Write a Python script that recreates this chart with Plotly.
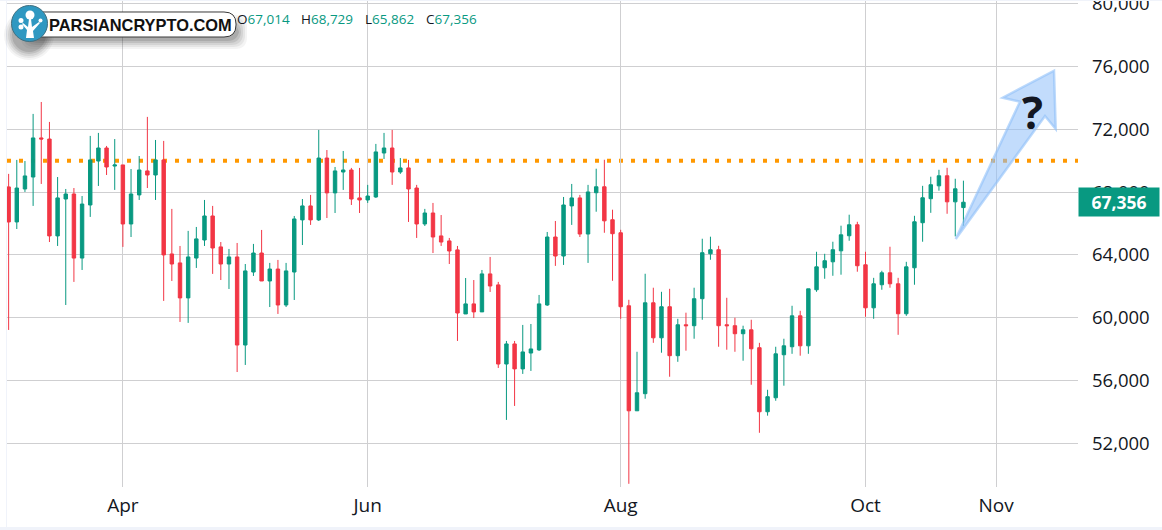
import plotly.graph_objects as go

# 2-day BTC candles
opens = [68330, 66100, 68200, 68960, 71450, 71380, 65210, 67560, 67880, 63800,
         67180, 69980, 70810, 69660, 69730, 65970, 67820, 69350, 69090, 70050,
         64060, 63490, 61260, 63800, 64950, 66480, 64510, 63420, 63870, 58260,
         62910, 64120, 62340, 63100, 60810, 62910, 66230, 67120, 66230, 70170,
         67950, 69280, 69410, 67630, 67500, 67690, 70490, 70810, 69280, 69540,
         68260, 65970, 66670, 65210, 64890, 64320, 60240, 60880, 60370, 62790,
         62090, 57050, 58330, 56740, 57750, 57950, 60810, 65140, 63930, 67120,
         67630, 65330, 67960, 68340, 66240, 65410, 60760, 54070, 55160, 60950,
         58720, 60700, 57580, 59550, 59490, 61210, 64070, 64330, 59550, 59490,
         58980, 59230, 58090, 54010, 54900, 57640, 58150, 60120, 58210, 61780,
         63180, 63560, 64260, 65220, 65920, 63370, 60630, 62100, 62860, 62160,
         60250, 63180, 66050, 67580, 68400, 69040, 67380, 67014]
highs = [69160, 70050, 69980, 72980, 73740, 72470, 68960, 68200, 68260, 67750,
         71580, 71770, 70940, 71380, 69730, 69470, 70300, 72790, 71320, 71260,
         66930, 64570, 65530, 65780, 67500, 67120, 64820, 64380, 64760, 63420,
         64700, 65590, 63490, 63680, 63490, 66480, 67560, 67820, 71960, 70680,
         69600, 70620, 69540, 69540, 68460, 71070, 71770, 71960, 70170, 70050,
         68460, 66930, 67310, 66540, 65080, 64570, 62530, 62400, 63040, 63870,
         62280, 58520, 58520, 59540, 59600, 61450, 65460, 66160, 67690, 68520,
         67820, 68460, 69490, 70060, 66880, 65600, 61140, 57830, 62800, 61910,
         61650, 61840, 59930, 60320, 61910, 65030, 65160, 64580, 61270, 60000,
         59490, 59870, 58400, 55410, 58150, 58660, 60760, 60440, 61840, 64200,
         64070, 64840, 65860, 66560, 66110, 64200, 62540, 62990, 64520, 62540,
         63560, 66490, 68400, 68980, 69420, 69550, 68850, 68729]
lows = [59220, 65650, 68010, 67120, 68520, 64820, 64570, 60810, 62280, 63040,
        66420, 68390, 69090, 68140, 64510, 65140, 67500, 68260, 67500, 61070,
        62340, 59730, 59670, 63170, 64570, 62790, 62400, 61830, 56540, 56990,
        62660, 62340, 60680, 60240, 60680, 61130, 64630, 65910, 66160, 66350,
        66670, 68140, 67180, 66670, 67310, 67630, 70110, 68460, 69160, 66100,
        65080, 65840, 64120, 64570, 63420, 58520, 60240, 59980, 60370, 61640,
        56800, 53490, 54380, 56420, 56610, 57880, 60750, 63300, 63360, 65910,
        65140, 63490, 66750, 65410, 62350, 59930, 49420, 54070, 54840, 58400,
        57770, 56240, 57190, 57900, 58660, 59870, 63690, 58150, 57960, 57830,
        57260, 55730, 52670, 53760, 54710, 55670, 57700, 57580, 57700, 61650,
        62480, 62670, 62740, 64900, 62930, 60060, 59930, 61780, 61910, 58910,
        60120, 62100, 64840, 66680, 68090, 66620, 65180, 65862]
closes = [66100, 68260, 69030, 71450, 71380, 65210, 67630, 67880, 63800, 67240,
          70050, 70810, 69600, 69730, 65970, 67880, 69410, 69090, 70050, 64000,
          63420, 61260, 63870, 65020, 66480, 64440, 63420, 63870, 58260, 62980,
          64120, 62340, 63100, 60810, 62980, 66290, 67120, 66230, 70170, 67950,
          69350, 69410, 67560, 67500, 67750, 70560, 70810, 69280, 69540, 68200,
          65970, 66670, 65140, 64820, 64250, 60300, 60880, 60370, 62790, 62020,
          57050, 58330, 56740, 57820, 58010, 60880, 65140, 63930, 67180, 67630,
          65330, 68010, 68340, 66170, 65350, 60700, 54070, 55220, 60950, 58720,
          60700, 57580, 59550, 59490, 61210, 64140, 64330, 59490, 59490, 58980,
          59230, 58020, 54010, 54970, 57700, 58210, 60120, 58210, 61840, 63240,
          63630, 64330, 65280, 65920, 63310, 60630, 62160, 62860, 62160, 60250,
          63240, 66110, 67640, 68470, 69040, 67380, 68210, 67356]

price_ticks = [52000, 56000, 60000, 64000, 68000, 72000, 76000, 80000]
month_ticks = [14, 44, 75, 105, 121]
month_labels = ['Apr', 'Jun', 'Aug', 'Oct', 'Nov']
level = 70000

GREEN = '#089981'
RED = '#f23645'
GRID = '#cfcfd1'
TEXT = '#131722'
BAND = '#f0f3fa'
FONT = 'Open Sans'

# plot area in page pixels
LEFT, RIGHT, BOTTOM = 7, 1078, 487


def px(x):
    return (x - LEFT) / (RIGHT - LEFT)


def py(y):
    return 1 - y / BOTTOM


def path(points):
    return 'M ' + ' L '.join(f'{px(x):.5f},{py(y):.5f}' for x, y in points) + ' Z'


def pill(x0, y0, x1, y1, r):
    return (f'M {px(x0 + r):.5f},{py(y0):.5f} L {px(x1 - r):.5f},{py(y0):.5f} '
            f'Q {px(x1):.5f},{py(y0):.5f} {px(x1):.5f},{py(y0 + r):.5f} '
            f'L {px(x1):.5f},{py(y1 - r):.5f} '
            f'Q {px(x1):.5f},{py(y1):.5f} {px(x1 - r):.5f},{py(y1):.5f} '
            f'L {px(x0 + r):.5f},{py(y1):.5f} '
            f'Q {px(x0):.5f},{py(y1):.5f} {px(x0):.5f},{py(y1 - r):.5f} '
            f'L {px(x0):.5f},{py(y0 + r):.5f} '
            f'Q {px(x0):.5f},{py(y0):.5f} {px(x0 + r):.5f},{py(y0):.5f} Z')


def circle(cx, cy, r, fill, line=None):
    return dict(type='circle', xref='paper', yref='paper',
                x0=px(cx - r), x1=px(cx + r), y0=py(cy + r), y1=py(cy - r),
                fillcolor=fill, line=dict(color=line or fill, width=1 if line else 0))


def box(x0, y0, x1, y1, fill):
    return dict(type='rect', xref='paper', yref='paper', x0=px(x0), x1=px(x1),
                y0=py(y1), y1=py(y0), fillcolor=fill, line_width=0)


fig = go.Figure(go.Candlestick(
    x=list(range(len(opens))), open=opens, high=highs, low=lows, close=closes,
    increasing=dict(line=dict(color=GREEN, width=1), fillcolor=GREEN),
    decreasing=dict(line=dict(color=RED, width=1), fillcolor=RED),
    whiskerwidth=0, showlegend=False,
))

shapes = [
    # resistance level under the candles
    dict(type='line', xref='paper', yref='y', x0=0, x1=1, y0=level, y1=level, layer='below',
         line=dict(color='#ff9800', width=4, dash='4px,8px')),
    # page frame
    box(6, 0, 7, 530, BAND),
    box(0, 0, 1162, 1, BAND),
    box(0, 527, 1162, 530, BAND),
]

# soft shadow under the logo
for grow, alpha in [(9, 0.05), (7, 0.07), (5, 0.09), (3, 0.11), (1, 0.14)]:
    shapes.append(dict(type='path', xref='paper', yref='paper', fillcolor=f'rgba(40,40,40,{alpha})',
                       line_width=0, path=pill(30 - grow, 24 - grow, 238 + grow, 40 + grow, 12)))
    shapes.append(circle(29, 35, 16 + grow, f'rgba(40,40,40,{alpha})'))

# logo pill and badge
shapes.append(dict(type='path', xref='paper', yref='paper', fillcolor='white',
                   line=dict(color='#3a3a3a', width=1), path=pill(30, 12, 236, 37, 12)))
shapes.append(circle(29.5, 23.5, 18, '#2f98c1', '#3f6f80'))
shapes.append(dict(type='path', xref='paper', yref='paper', fillcolor='white', line_width=0,
                   path=path([(26, 38), (27, 30), (22, 24), (23, 23), (28, 27), (29, 19), (31, 19),
                              (32, 27), (39, 22), (40, 23), (33, 31), (34, 38)])))
shapes.append(circle(30, 15, 4.5, 'white'))
shapes.append(circle(21, 20.5, 2.5, 'white'))
shapes.append(circle(40.5, 20.5, 2, 'white'))
shapes.append(circle(21, 27, 2.5, 'white'))

# hand drawn up arrow
shapes.append(dict(type='path', xref='paper', yref='paper', layer='above',
                   fillcolor='rgba(144,191,249,0.55)',
                   line=dict(color='rgba(144,191,249,0.6)', width=2.5),
                   path=path([(955.7, 239), (1020, 101.7), (1002.7, 97.7), (1054, 70.7),
                              (1055.7, 129), (1045, 116)])))

annotations = [
    dict(x=px(47), y=py(25), xref='paper', yref='paper', xanchor='left', yanchor='middle',
         text='<b>PARSIANCRYPTO.COM</b>', showarrow=False,
         font=dict(family='Liberation Sans', size=16.4, color='#111111')),
    dict(x=px(1032), y=py(112), xref='paper', yref='paper', xanchor='center', yanchor='middle',
         text='<b>?</b>', showarrow=False, font=dict(family='Open Sans', size=44, color=TEXT)),
    dict(x=px(1119), y=closes[-1], xref='paper', yref='y', xanchor='center', yanchor='middle',
         text=f'<b>{closes[-1]:,}</b>', showarrow=False, width=80, height=28, borderpad=0,
         bgcolor=GREEN, font=dict(family=FONT, size=17.5, color='white')),
]

# OHLC readout of the last candle
for left, letter, value in [(235, 'O', opens[-1]), (299, 'H', highs[-1]),
                            (363, 'L', lows[-1]), (424, 'C', closes[-1])]:
    annotations.append(dict(
        x=px(left), y=py(19), xref='paper', yref='paper', xanchor='left', yanchor='middle',
        text=f'{letter}<span style="color:{GREEN}">{value:,}</span>', showarrow=False,
        font=dict(family=FONT, size=13.5, color=TEXT)))

fig.update_layout(
    width=1162, height=530,
    margin=dict(l=LEFT, r=1162 - RIGHT, t=0, b=530 - BOTTOM, autoexpand=False),
    paper_bgcolor='white', plot_bgcolor='white',
    boxgap=0.4,
    shapes=shapes, annotations=annotations,
    font=dict(family=FONT, color=TEXT),
    xaxis=dict(
        range=[-0.2, 131.04], rangeslider_visible=False, tickvals=month_ticks, ticktext=month_labels,
        showgrid=True, gridcolor=GRID, gridwidth=1, zeroline=False, showline=False,
        ticks='', tickfont=dict(size=19, color=TEXT), ticklabelstandoff=5,
    ),
    yaxis=dict(
        range=[49217, 80236], side='right', tickvals=price_ticks, tickformat=',d',
        showgrid=True, gridcolor=GRID, gridwidth=1, zeroline=False, showline=False,
        ticks='', tickfont=dict(size=18.5, color=TEXT), ticklabelstandoff=13,
        ticklabeloverflow='allow', automargin=False,
    ),
)

# page has a default 8px body margin, drop it so the figure fills the window
fig.write_html("out.html", config=dict(displayModeBar=False),
               post_script="document.body.style.margin='0';")
